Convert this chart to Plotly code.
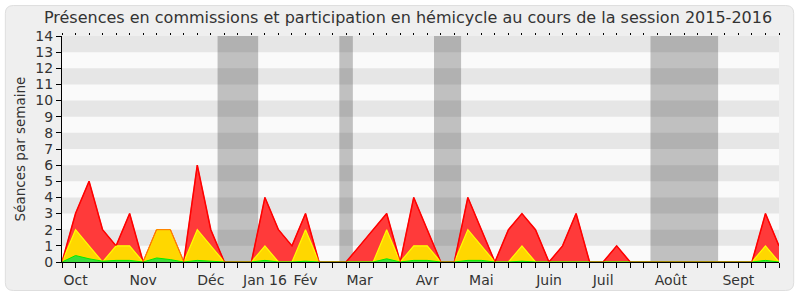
import plotly.graph_objects as go

weeks = list(range(54))
total = [0,3,5,2,1,3,0,2,2,0,6,2,0,0,0,4,2,1,3,0,0,0,1,2,3,0,4,2,0,0,4,2,0,2,3,2,0,1,3,0,0,1,0,0,0,0,0,0,0,0,0,0,3,1]
commission = [0,2,1,0,1,1,0,2,2,0,2,1,0,0,0,1,0,0,2,0,0,0,0,0,2,0,1,1,0,0,2,1,0,0,1,0,0,0,0,0,0,0,0,0,0,0,0,0,0,0,0,0,1,0]
hemicycle = [0,0.4,0.2,0.05,0.1,0.1,0,0.25,0.15,0,0.1,0.05,0,0,0,0.1,0,0,0.05,0,0,0,0,0,0.2,0,0.1,0.1,0,0,0.1,0.1,0,0,0.05,0,0,0,0,0,0,0,0,0,0,0,0,0,0,0,0,0,0.1,0]
month_pos = [1,6,11,15,18,22,27,31,36,40,45,50]
month_labels = ["Oct","Nov","Déc","Jan 16","Fév","Mar","Avr","Mai","Juin","Juil","Août","Sept"]
holidays = [(11.5,14.5),(20.5,21.5),(27.5,29.5),(43.5,48.5)]

FONT = "DejaVu Sans"
fig = go.Figure()
fig.add_trace(go.Scatter(x=weeks, y=total, mode="lines", fill="tozeroy",
                         fillcolor="#ff3a3a", line=dict(color="#ff0000", width=1.5), hoverinfo="skip"))
fig.add_trace(go.Scatter(x=weeks, y=commission, mode="lines", fill="tozeroy",
                         fillcolor="#ffd700", line=dict(color="#ffff00", width=1.2), hoverinfo="skip"))
fig.add_trace(go.Scatter(x=weeks, y=hemicycle, mode="lines", fill="tozeroy",
                         fillcolor="#3cdc3c", line=dict(color="#00ee00", width=1), hoverinfo="skip"))
fig.add_trace(go.Scatter(x=weeks, y=total, mode="lines",
                         line=dict(color="rgba(255,0,0,0.6)", width=1), hoverinfo="skip"))

# plot geometry in px
L, R, T, B = 61.7, 779.3, 36, 266
W, H = R - L, B - T
def px(xp): return (xp - L) / W
def py(yp): return (B - yp) / H

shapes = []
x0, x1, y0, y1 = px(5), px(794), py(295), py(5)
rx, ry = 8 / W, 8 / H
path = (f"M {x0+rx},{y1} L {x1-rx},{y1} Q {x1},{y1} {x1},{y1-ry} "
        f"L {x1},{y0+ry} Q {x1},{y0} {x1-rx},{y0} L {x0+rx},{y0} "
        f"Q {x0},{y0} {x0},{y0+ry} L {x0},{y1-ry} Q {x0},{y1} {x0+rx},{y1} Z")
shapes.append(dict(type="path", xref="paper", yref="paper", path=path,
                   fillcolor="#efefef", line=dict(color="#dedede", width=1), layer="below"))
shapes.append(dict(type="rect", xref="paper", yref="paper", x0=0, x1=1, y0=0, y1=1,
                   fillcolor="#fafafa", line=dict(width=0), layer="below"))
for a, b in holidays:
    shapes.append(dict(type="rect", xref="x", yref="paper", x0=a, x1=b, y0=0, y1=1,
                       fillcolor="#c0c0c0", line=dict(width=0), layer="below"))
for k in range(1, 14, 2):
    shapes.append(dict(type="rect", xref="paper", yref="y", x0=0, x1=1, y0=k, y1=k + 1,
                       fillcolor="rgba(0,0,0,0.08)", line=dict(width=0), layer="below"))

ticktext = [""] * len(weeks)
for p, lab in zip(month_pos, month_labels):
    ticktext[p] = lab

fig.update_layout(
    width=800, height=300,
    margin=dict(l=L, r=800 - R, t=T, b=300 - B),
    paper_bgcolor="white", plot_bgcolor="rgba(0,0,0,0)",
    showlegend=False, shapes=shapes,
    font=dict(family=FONT, size=14, color="#333333"),
    title=dict(text="Présences en commissions et participation en hémicycle au cours de la session 2015-2016",
               x=0.51, xanchor="center", y=1 - 17 / 300, yanchor="middle", yref="container",
               font=dict(family=FONT, size=16, color="#333333")),
    xaxis=dict(range=[0, 53], tickmode="array", tickvals=weeks, ticktext=ticktext,
               ticks="outside", ticklen=5, tickcolor="#000", showgrid=False, zeroline=False,
               showline=True, linecolor="#000", linewidth=1, tickfont=dict(size=14)),
    xaxis2=dict(range=[0, 53], overlaying="x", side="top", tickmode="array", tickvals=weeks,
                ticks="outside", ticklen=2, tickcolor="#000", showticklabels=False,
                showgrid=False, zeroline=False, showline=False),
    yaxis=dict(range=[0, 14], tickmode="array", tickvals=list(range(15)),
               ticks="outside", ticklen=5, tickcolor="#000", showgrid=False, zeroline=False,
               showline=True, linecolor="#000", linewidth=1, tickfont=dict(size=14),
               title=dict(text="Séances par semaine", font=dict(size=13.5), standoff=6)),
)
fig.add_trace(go.Scatter(x=[0, 53], y=[None, None], xaxis="x2", showlegend=False, hoverinfo="skip"))
fig.write_html("out.html")
